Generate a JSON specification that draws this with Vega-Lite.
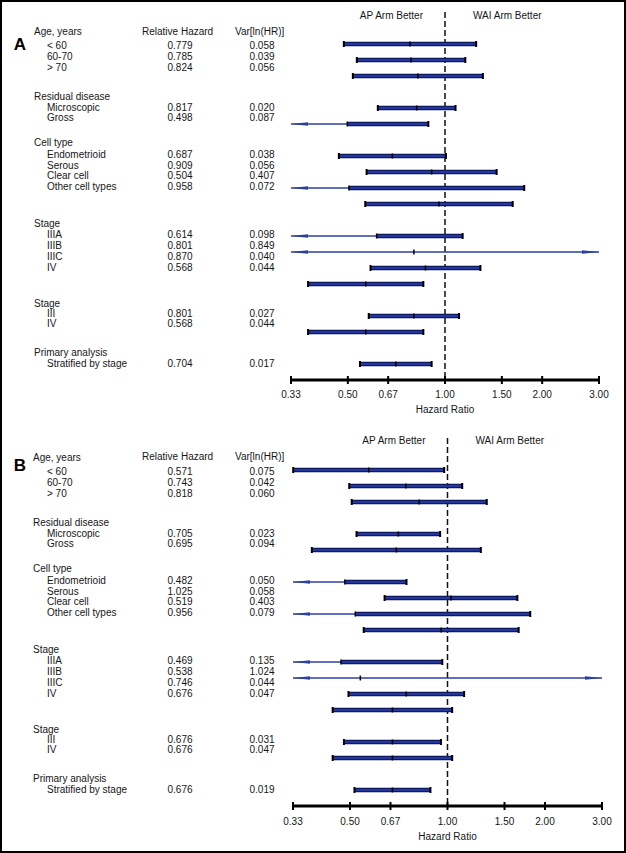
{
  "$schema": "https://vega.github.io/schema/vega-lite/v6.json",
  "width": 626,
  "height": 853,
  "autosize": {"type": "none"},
  "padding": 0,
  "background": "white",
  "config": {
    "view": {"stroke": "#000", "strokeWidth": 4},
    "text": {"font": "Liberation Sans", "fontSize": 10, "fill": "#161616", "baseline": "middle"}
  },
  "datasets": {
    "forestA": [
      {"label": "< 60", "hr": 0.779, "v": 0.058, "lo": 0.4859, "hi": 1.2489, "pos": 0, "tpos": 0.125},
      {"label": "60-70", "hr": 0.785, "v": 0.039, "lo": 0.5331, "hi": 1.156, "pos": 1, "tpos": 0.81},
      {"label": "> 70", "hr": 0.824, "v": 0.056, "lo": 0.5182, "hi": 1.3103, "pos": 2, "tpos": 1.5},
      {"label": "Microscopic", "hr": 0.817, "v": 0.02, "lo": 0.6192, "hi": 1.078, "pos": 4, "tpos": 4.0},
      {"label": "Gross", "hr": 0.498, "v": 0.087, "lo": 0.2793, "hi": 0.8878, "pos": 5, "tpos": 4.63},
      {"label": "Endometrioid", "hr": 0.687, "v": 0.038, "lo": 0.4689, "hi": 1.0067, "pos": 7, "tpos": 6.94},
      {"label": "Serous", "hr": 0.909, "v": 0.056, "lo": 0.5716, "hi": 1.4454, "pos": 8, "tpos": 7.63},
      {"label": "Clear cell", "hr": 0.504, "v": 0.407, "lo": 0.1443, "hi": 1.7599, "pos": 9, "tpos": 8.25},
      {"label": "Other cell types", "hr": 0.958, "v": 0.072, "lo": 0.5662, "hi": 1.621, "pos": 10, "tpos": 8.94},
      {"label": "IIIA", "hr": 0.614, "v": 0.098, "lo": 0.3324, "hi": 1.1341, "pos": 12, "tpos": 11.94},
      {"label": "IIIB", "hr": 0.801, "v": 0.849, "lo": 0.1316, "hi": 4.875, "pos": 13, "tpos": 12.63},
      {"label": "IIIC", "hr": 0.87, "v": 0.04, "lo": 0.5879, "hi": 1.2875, "pos": 14, "tpos": 13.31},
      {"label": "IV", "hr": 0.568, "v": 0.044, "lo": 0.3765, "hi": 0.8568, "pos": 15, "tpos": 14.0},
      {"label": "III", "hr": 0.801, "v": 0.027, "lo": 0.5804, "hi": 1.1054, "pos": 17, "tpos": 16.88},
      {"label": "IV", "hr": 0.568, "v": 0.044, "lo": 0.3765, "hi": 0.8568, "pos": 18, "tpos": 17.5},
      {"label": "Stratified by stage", "hr": 0.704, "v": 0.017, "lo": 0.5452, "hi": 0.909, "pos": 20, "tpos": 20.0}
    ],
    "forestB": [
      {"label": "< 60", "hr": 0.571, "v": 0.075, "lo": 0.3338, "hi": 0.9767, "pos": 0, "tpos": 0.125},
      {"label": "60-70", "hr": 0.743, "v": 0.042, "lo": 0.4972, "hi": 1.1103, "pos": 1, "tpos": 0.81},
      {"label": "> 70", "hr": 0.818, "v": 0.06, "lo": 0.5061, "hi": 1.3221, "pos": 2, "tpos": 1.5},
      {"label": "Microscopic", "hr": 0.705, "v": 0.023, "lo": 0.5237, "hi": 0.949, "pos": 4, "tpos": 4.0},
      {"label": "Gross", "hr": 0.695, "v": 0.094, "lo": 0.3811, "hi": 1.2675, "pos": 5, "tpos": 4.63},
      {"label": "Endometrioid", "hr": 0.482, "v": 0.05, "lo": 0.311, "hi": 0.7471, "pos": 7, "tpos": 6.94},
      {"label": "Serous", "hr": 1.025, "v": 0.058, "lo": 0.6393, "hi": 1.6433, "pos": 8, "tpos": 7.63},
      {"label": "Clear cell", "hr": 0.519, "v": 0.403, "lo": 0.1496, "hi": 1.8011, "pos": 9, "tpos": 8.25},
      {"label": "Other cell types", "hr": 0.956, "v": 0.079, "lo": 0.5511, "hi": 1.6585, "pos": 10, "tpos": 8.94},
      {"label": "IIIA", "hr": 0.469, "v": 0.135, "lo": 0.2283, "hi": 0.9637, "pos": 12, "tpos": 11.94},
      {"label": "IIIB", "hr": 0.538, "v": 1.024, "lo": 0.0748, "hi": 3.91, "pos": 13, "tpos": 12.63},
      {"label": "IIIC", "hr": 0.746, "v": 0.044, "lo": 0.4945, "hi": 1.1254, "pos": 14, "tpos": 13.31},
      {"label": "IV", "hr": 0.676, "v": 0.047, "lo": 0.442, "hi": 1.0339, "pos": 15, "tpos": 14.0},
      {"label": "III", "hr": 0.676, "v": 0.031, "lo": 0.4787, "hi": 0.9546, "pos": 17, "tpos": 16.88},
      {"label": "IV", "hr": 0.676, "v": 0.047, "lo": 0.442, "hi": 1.0339, "pos": 18, "tpos": 17.5},
      {"label": "Stratified by stage", "hr": 0.676, "v": 0.019, "lo": 0.516, "hi": 0.8857, "pos": 20, "tpos": 20.0}
    ],
    "groups": [
      {"name": "Age, years", "tpos": -0.75},
      {"name": "Residual disease", "tpos": 3.31},
      {"name": "Cell type", "tpos": 6.19},
      {"name": "Stage", "tpos": 11.25},
      {"name": "Stage", "tpos": 16.25},
      {"name": "Primary analysis", "tpos": 19.31}
    ],
    "colheads": [
      {"h": "Relative Hazard", "c": 3},
      {"h": "Var[ln(HR)]", "c": 5}
    ],
    "ticks": [
      {"t": 0.333333, "label": "0.33"},
      {"t": 0.5, "label": "0.50"},
      {"t": 0.666667, "label": "0.67"},
      {"t": 1, "label": "1.00"},
      {"t": 1.5, "label": "1.50"},
      {"t": 2, "label": "2.00"},
      {"t": 3, "label": "3.00"}
    ]
  },
  "resolve": {"scale": {"x": "independent", "y": "independent"}},
  "layer": [
    {
      "resolve": {"scale": {"x": "independent"}},
      "layer": [
        {
          "layer": [
            {"data": {"values": [{}]}, "mark": {"type": "rule", "strokeDash": [6, 3], "strokeWidth": 1.5, "color": "#111"},
             "encoding": {"x": {"datum": 1, "type": "quantitative", "scale": {"type": "log", "domain": [0.333333, 3], "range": [291, 599], "clamp": true, "nice": false}, "axis": null},
                          "y": {"datum": -2, "type": "quantitative", "scale": {"domain": [-2.75, 50.5625], "reverse": true, "nice": false, "zero": false}, "axis": null},
                          "y2": {"datum": 21}}},
            {"data": {"name": "forestA"}, "transform": [{"filter": "datum.lo < 0.33333"}], "mark": {"type": "rule", "strokeWidth": 1.5, "color": "#2c3fa6"},
             "encoding": {"x": {"field": "lo", "type": "quantitative", "scale": {"type": "log", "domain": [0.333333, 3], "range": [291, 599], "clamp": true, "nice": false}, "axis": null}, "x2": {"field": "hr"},
                          "y": {"field": "pos", "type": "quantitative", "scale": {"domain": [-2.75, 50.5625], "reverse": true, "nice": false, "zero": false}, "axis": null}}},
            {"data": {"name": "forestA"}, "transform": [{"filter": "datum.hi > 3"}], "mark": {"type": "rule", "strokeWidth": 1.5, "color": "#2c3fa6"},
             "encoding": {"x": {"field": "hr", "type": "quantitative", "scale": {"type": "log", "domain": [0.333333, 3], "range": [291, 599], "clamp": true, "nice": false}, "axis": null}, "x2": {"field": "hi"},
                          "y": {"field": "pos", "type": "quantitative", "scale": {"domain": [-2.75, 50.5625], "reverse": true, "nice": false, "zero": false}, "axis": null}}},
            {"data": {"name": "forestA"}, "transform": [{"filter": "datum.lo >= 0.33333"}], "mark": {"type": "rule", "strokeWidth": 4.5, "color": "#0b1040", "strokeCap": "butt"},
             "encoding": {"x": {"field": "lo", "type": "quantitative", "scale": {"type": "log", "domain": [0.333333, 3], "range": [291, 599], "clamp": true, "nice": false}, "axis": null}, "x2": {"field": "hr"},
                          "y": {"field": "pos", "type": "quantitative", "scale": {"domain": [-2.75, 50.5625], "reverse": true, "nice": false, "zero": false}, "axis": null}}},
            {"data": {"name": "forestA"}, "transform": [{"filter": "datum.hi <= 3"}], "mark": {"type": "rule", "strokeWidth": 4.5, "color": "#0b1040", "strokeCap": "butt"},
             "encoding": {"x": {"field": "hr", "type": "quantitative", "scale": {"type": "log", "domain": [0.333333, 3], "range": [291, 599], "clamp": true, "nice": false}, "axis": null}, "x2": {"field": "hi"},
                          "y": {"field": "pos", "type": "quantitative", "scale": {"domain": [-2.75, 50.5625], "reverse": true, "nice": false, "zero": false}, "axis": null}}},
            {"data": {"name": "forestA"}, "transform": [{"filter": "datum.lo >= 0.33333"}], "mark": {"type": "rule", "strokeWidth": 2.5, "color": "#2236a6", "strokeCap": "butt"},
             "encoding": {"x": {"field": "lo", "type": "quantitative", "scale": {"type": "log", "domain": [0.333333, 3], "range": [291, 599], "clamp": true, "nice": false}, "axis": null}, "x2": {"field": "hr"},
                          "y": {"field": "pos", "type": "quantitative", "scale": {"domain": [-2.75, 50.5625], "reverse": true, "nice": false, "zero": false}, "axis": null}}},
            {"data": {"name": "forestA"}, "transform": [{"filter": "datum.hi <= 3"}], "mark": {"type": "rule", "strokeWidth": 2.5, "color": "#2236a6", "strokeCap": "butt"},
             "encoding": {"x": {"field": "hr", "type": "quantitative", "scale": {"type": "log", "domain": [0.333333, 3], "range": [291, 599], "clamp": true, "nice": false}, "axis": null}, "x2": {"field": "hi"},
                          "y": {"field": "pos", "type": "quantitative", "scale": {"domain": [-2.75, 50.5625], "reverse": true, "nice": false, "zero": false}, "axis": null}}},
            {"data": {"name": "forestA"}, "transform": [{"filter": "datum.lo >= 0.33333"}], "mark": {"type": "tick", "orient": "vertical", "size": 6, "thickness": 2, "color": "#000", "opacity": 1},
             "encoding": {"x": {"field": "lo", "type": "quantitative", "scale": {"type": "log", "domain": [0.333333, 3], "range": [291, 599], "clamp": true, "nice": false}, "axis": null},
                          "y": {"field": "pos", "type": "quantitative", "scale": {"domain": [-2.75, 50.5625], "reverse": true, "nice": false, "zero": false}, "axis": null}}},
            {"data": {"name": "forestA"}, "transform": [{"filter": "datum.hi <= 3"}], "mark": {"type": "tick", "orient": "vertical", "size": 6, "thickness": 2, "color": "#000", "opacity": 1},
             "encoding": {"x": {"field": "hi", "type": "quantitative", "scale": {"type": "log", "domain": [0.333333, 3], "range": [291, 599], "clamp": true, "nice": false}, "axis": null},
                          "y": {"field": "pos", "type": "quantitative", "scale": {"domain": [-2.75, 50.5625], "reverse": true, "nice": false, "zero": false}, "axis": null}}},
            {"data": {"name": "forestA"}, "mark": {"type": "tick", "orient": "vertical", "size": 5, "thickness": 1.5, "color": "#000", "opacity": 1},
             "encoding": {"x": {"field": "hr", "type": "quantitative", "scale": {"type": "log", "domain": [0.333333, 3], "range": [291, 599], "clamp": true, "nice": false}, "axis": null},
                          "y": {"field": "pos", "type": "quantitative", "scale": {"domain": [-2.75, 50.5625], "reverse": true, "nice": false, "zero": false}, "axis": null}}},
            {"data": {"name": "forestA"}, "transform": [{"filter": "datum.lo < 0.33333"}], "mark": {"type": "point", "shape": "M0,0L2,-0.22L2,0.22Z", "size": 289, "filled": true, "color": "#2c3fa6", "opacity": 1, "strokeWidth": 0},
             "encoding": {"x": {"field": "lo", "type": "quantitative", "scale": {"type": "log", "domain": [0.333333, 3], "range": [291, 599], "clamp": true, "nice": false}, "axis": null},
                          "y": {"field": "pos", "type": "quantitative", "scale": {"domain": [-2.75, 50.5625], "reverse": true, "nice": false, "zero": false}, "axis": null}}},
            {"data": {"name": "forestA"}, "transform": [{"filter": "datum.hi > 3"}], "mark": {"type": "point", "shape": "M0,0L-2,-0.22L-2,0.22Z", "size": 289, "filled": true, "color": "#2c3fa6", "opacity": 1, "strokeWidth": 0},
             "encoding": {"x": {"field": "hi", "type": "quantitative", "scale": {"type": "log", "domain": [0.333333, 3], "range": [291, 599], "clamp": true, "nice": false}, "axis": null},
                          "y": {"field": "pos", "type": "quantitative", "scale": {"domain": [-2.75, 50.5625], "reverse": true, "nice": false, "zero": false}, "axis": null}}},
            {"data": {"values": [{}]}, "mark": {"type": "rule", "strokeWidth": 3, "color": "#000"},
             "encoding": {"x": {"datum": 0.333333, "type": "quantitative", "scale": {"type": "log", "domain": [0.333333, 3], "range": [291, 599], "clamp": true, "nice": false}, "axis": null}, "x2": {"datum": 3},
                          "y": {"datum": 21, "type": "quantitative", "scale": {"domain": [-2.75, 50.5625], "reverse": true, "nice": false, "zero": false}, "axis": null}}},
            {"data": {"name": "ticks"}, "mark": {"type": "tick", "orient": "vertical", "size": 8, "thickness": 2, "color": "#000", "opacity": 1},
             "encoding": {"x": {"field": "t", "type": "quantitative", "scale": {"type": "log", "domain": [0.333333, 3], "range": [291, 599], "clamp": true, "nice": false}, "axis": null},
                          "y": {"datum": 21, "type": "quantitative", "scale": {"domain": [-2.75, 50.5625], "reverse": true, "nice": false, "zero": false}, "axis": null}}},
            {"data": {"name": "ticks"}, "mark": {"type": "text", "dy": 15, "align": "center"},
             "encoding": {"x": {"field": "t", "type": "quantitative", "scale": {"type": "log", "domain": [0.333333, 3], "range": [291, 599], "clamp": true, "nice": false}, "axis": null},
                          "y": {"datum": 21, "type": "quantitative", "scale": {"domain": [-2.75, 50.5625], "reverse": true, "nice": false, "zero": false}, "axis": null},
                          "text": {"field": "label"}}},
            {"data": {"values": [{"t": "Hazard Ratio"}]}, "mark": {"type": "text", "dy": 30, "align": "center"},
             "encoding": {"x": {"datum": 1, "type": "quantitative", "scale": {"type": "log", "domain": [0.333333, 3], "range": [291, 599], "clamp": true, "nice": false}, "axis": null},
                          "y": {"datum": 21, "type": "quantitative", "scale": {"domain": [-2.75, 50.5625], "reverse": true, "nice": false, "zero": false}, "axis": null},
                          "text": {"field": "t"}}},
            {"data": {"values": [{"t": "AP Arm Better"}]}, "mark": {"type": "text", "dx": -22, "align": "right"},
             "encoding": {"x": {"datum": 1, "type": "quantitative", "scale": {"type": "log", "domain": [0.333333, 3], "range": [291, 599], "clamp": true, "nice": false}, "axis": null},
                          "y": {"datum": -1.75, "type": "quantitative", "scale": {"domain": [-2.75, 50.5625], "reverse": true, "nice": false, "zero": false}, "axis": null},
                          "text": {"field": "t"}}},
            {"data": {"values": [{"t": "WAI Arm Better"}]}, "mark": {"type": "text", "dx": 28, "align": "left"},
             "encoding": {"x": {"datum": 1, "type": "quantitative", "scale": {"type": "log", "domain": [0.333333, 3], "range": [291, 599], "clamp": true, "nice": false}, "axis": null},
                          "y": {"datum": -1.75, "type": "quantitative", "scale": {"domain": [-2.75, 50.5625], "reverse": true, "nice": false, "zero": false}, "axis": null},
                          "text": {"field": "t"}}}
          ]
        },
        {
          "layer": [
            {"data": {"values": [{"t": "A"}]}, "mark": {"type": "text", "align": "center", "fontSize": 17, "fontWeight": "bold", "fill": "#000"},
             "encoding": {"x": {"datum": 0, "type": "quantitative", "scale": {"type": "linear", "domain": [0, 1, 2, 3, 4, 5, 6], "range": [20, 34, 47, 142, 180, 235, 262], "nice": false, "zero": false}, "axis": null},
                          "y": {"datum": 0.06, "type": "quantitative", "scale": {"domain": [-2.75, 50.5625], "reverse": true, "nice": false, "zero": false}, "axis": null},
                          "text": {"field": "t"}}},
            {"data": {"name": "colheads"}, "mark": {"type": "text", "align": "left"},
             "encoding": {"x": {"field": "c", "type": "quantitative", "scale": {"type": "linear", "domain": [0, 1, 2, 3, 4, 5, 6], "range": [20, 34, 47, 142, 180, 235, 262], "nice": false, "zero": false}, "axis": null},
                          "y": {"datum": -0.75, "type": "quantitative", "scale": {"domain": [-2.75, 50.5625], "reverse": true, "nice": false, "zero": false}, "axis": null},
                          "text": {"field": "h"}}},
            {"data": {"name": "groups"}, "mark": {"type": "text", "align": "left"},
             "encoding": {"x": {"datum": 1, "type": "quantitative", "scale": {"type": "linear", "domain": [0, 1, 2, 3, 4, 5, 6], "range": [20, 34, 47, 142, 180, 235, 262], "nice": false, "zero": false}, "axis": null},
                          "y": {"field": "tpos", "type": "quantitative", "scale": {"domain": [-2.75, 50.5625], "reverse": true, "nice": false, "zero": false}, "axis": null},
                          "text": {"field": "name"}}},
            {"data": {"name": "forestA"}, "mark": {"type": "text", "align": "left"},
             "encoding": {"x": {"datum": 2, "type": "quantitative", "scale": {"type": "linear", "domain": [0, 1, 2, 3, 4, 5, 6], "range": [20, 34, 47, 142, 180, 235, 262], "nice": false, "zero": false}, "axis": null},
                          "y": {"field": "tpos", "type": "quantitative", "scale": {"domain": [-2.75, 50.5625], "reverse": true, "nice": false, "zero": false}, "axis": null},
                          "text": {"field": "label"}}},
            {"data": {"name": "forestA"}, "mark": {"type": "text", "align": "center"},
             "encoding": {"x": {"datum": 4, "type": "quantitative", "scale": {"type": "linear", "domain": [0, 1, 2, 3, 4, 5, 6], "range": [20, 34, 47, 142, 180, 235, 262], "nice": false, "zero": false}, "axis": null},
                          "y": {"field": "tpos", "type": "quantitative", "scale": {"domain": [-2.75, 50.5625], "reverse": true, "nice": false, "zero": false}, "axis": null},
                          "text": {"field": "hr", "type": "quantitative", "format": ".3f"}}},
            {"data": {"name": "forestA"}, "mark": {"type": "text", "align": "center"},
             "encoding": {"x": {"datum": 6, "type": "quantitative", "scale": {"type": "linear", "domain": [0, 1, 2, 3, 4, 5, 6], "range": [20, 34, 47, 142, 180, 235, 262], "nice": false, "zero": false}, "axis": null},
                          "y": {"field": "tpos", "type": "quantitative", "scale": {"domain": [-2.75, 50.5625], "reverse": true, "nice": false, "zero": false}, "axis": null},
                          "text": {"field": "v", "type": "quantitative", "format": ".3f"}}}
          ]
        }
      ]
    },
    {
      "resolve": {"scale": {"x": "independent"}},
      "layer": [
        {
          "layer": [
            {"data": {"values": [{}]}, "mark": {"type": "rule", "strokeDash": [6, 3], "strokeWidth": 1.5, "color": "#111"},
             "encoding": {"x": {"datum": 1, "type": "quantitative", "scale": {"type": "log", "domain": [0.333333, 3], "range": [293, 602], "clamp": true, "nice": false}, "axis": null},
                          "y": {"datum": -2, "type": "quantitative", "scale": {"domain": [-29.375, 23.9375], "reverse": true, "nice": false, "zero": false}, "axis": null},
                          "y2": {"datum": 21}}},
            {"data": {"name": "forestB"}, "transform": [{"filter": "datum.lo < 0.33333"}], "mark": {"type": "rule", "strokeWidth": 1.5, "color": "#2c3fa6"},
             "encoding": {"x": {"field": "lo", "type": "quantitative", "scale": {"type": "log", "domain": [0.333333, 3], "range": [293, 602], "clamp": true, "nice": false}, "axis": null}, "x2": {"field": "hr"},
                          "y": {"field": "pos", "type": "quantitative", "scale": {"domain": [-29.375, 23.9375], "reverse": true, "nice": false, "zero": false}, "axis": null}}},
            {"data": {"name": "forestB"}, "transform": [{"filter": "datum.hi > 3"}], "mark": {"type": "rule", "strokeWidth": 1.5, "color": "#2c3fa6"},
             "encoding": {"x": {"field": "hr", "type": "quantitative", "scale": {"type": "log", "domain": [0.333333, 3], "range": [293, 602], "clamp": true, "nice": false}, "axis": null}, "x2": {"field": "hi"},
                          "y": {"field": "pos", "type": "quantitative", "scale": {"domain": [-29.375, 23.9375], "reverse": true, "nice": false, "zero": false}, "axis": null}}},
            {"data": {"name": "forestB"}, "transform": [{"filter": "datum.lo >= 0.33333"}], "mark": {"type": "rule", "strokeWidth": 4.5, "color": "#0b1040", "strokeCap": "butt"},
             "encoding": {"x": {"field": "lo", "type": "quantitative", "scale": {"type": "log", "domain": [0.333333, 3], "range": [293, 602], "clamp": true, "nice": false}, "axis": null}, "x2": {"field": "hr"},
                          "y": {"field": "pos", "type": "quantitative", "scale": {"domain": [-29.375, 23.9375], "reverse": true, "nice": false, "zero": false}, "axis": null}}},
            {"data": {"name": "forestB"}, "transform": [{"filter": "datum.hi <= 3"}], "mark": {"type": "rule", "strokeWidth": 4.5, "color": "#0b1040", "strokeCap": "butt"},
             "encoding": {"x": {"field": "hr", "type": "quantitative", "scale": {"type": "log", "domain": [0.333333, 3], "range": [293, 602], "clamp": true, "nice": false}, "axis": null}, "x2": {"field": "hi"},
                          "y": {"field": "pos", "type": "quantitative", "scale": {"domain": [-29.375, 23.9375], "reverse": true, "nice": false, "zero": false}, "axis": null}}},
            {"data": {"name": "forestB"}, "transform": [{"filter": "datum.lo >= 0.33333"}], "mark": {"type": "rule", "strokeWidth": 2.5, "color": "#2236a6", "strokeCap": "butt"},
             "encoding": {"x": {"field": "lo", "type": "quantitative", "scale": {"type": "log", "domain": [0.333333, 3], "range": [293, 602], "clamp": true, "nice": false}, "axis": null}, "x2": {"field": "hr"},
                          "y": {"field": "pos", "type": "quantitative", "scale": {"domain": [-29.375, 23.9375], "reverse": true, "nice": false, "zero": false}, "axis": null}}},
            {"data": {"name": "forestB"}, "transform": [{"filter": "datum.hi <= 3"}], "mark": {"type": "rule", "strokeWidth": 2.5, "color": "#2236a6", "strokeCap": "butt"},
             "encoding": {"x": {"field": "hr", "type": "quantitative", "scale": {"type": "log", "domain": [0.333333, 3], "range": [293, 602], "clamp": true, "nice": false}, "axis": null}, "x2": {"field": "hi"},
                          "y": {"field": "pos", "type": "quantitative", "scale": {"domain": [-29.375, 23.9375], "reverse": true, "nice": false, "zero": false}, "axis": null}}},
            {"data": {"name": "forestB"}, "transform": [{"filter": "datum.lo >= 0.33333"}], "mark": {"type": "tick", "orient": "vertical", "size": 6, "thickness": 2, "color": "#000", "opacity": 1},
             "encoding": {"x": {"field": "lo", "type": "quantitative", "scale": {"type": "log", "domain": [0.333333, 3], "range": [293, 602], "clamp": true, "nice": false}, "axis": null},
                          "y": {"field": "pos", "type": "quantitative", "scale": {"domain": [-29.375, 23.9375], "reverse": true, "nice": false, "zero": false}, "axis": null}}},
            {"data": {"name": "forestB"}, "transform": [{"filter": "datum.hi <= 3"}], "mark": {"type": "tick", "orient": "vertical", "size": 6, "thickness": 2, "color": "#000", "opacity": 1},
             "encoding": {"x": {"field": "hi", "type": "quantitative", "scale": {"type": "log", "domain": [0.333333, 3], "range": [293, 602], "clamp": true, "nice": false}, "axis": null},
                          "y": {"field": "pos", "type": "quantitative", "scale": {"domain": [-29.375, 23.9375], "reverse": true, "nice": false, "zero": false}, "axis": null}}},
            {"data": {"name": "forestB"}, "mark": {"type": "tick", "orient": "vertical", "size": 5, "thickness": 1.5, "color": "#000", "opacity": 1},
             "encoding": {"x": {"field": "hr", "type": "quantitative", "scale": {"type": "log", "domain": [0.333333, 3], "range": [293, 602], "clamp": true, "nice": false}, "axis": null},
                          "y": {"field": "pos", "type": "quantitative", "scale": {"domain": [-29.375, 23.9375], "reverse": true, "nice": false, "zero": false}, "axis": null}}},
            {"data": {"name": "forestB"}, "transform": [{"filter": "datum.lo < 0.33333"}], "mark": {"type": "point", "shape": "M0,0L2,-0.22L2,0.22Z", "size": 289, "filled": true, "color": "#2c3fa6", "opacity": 1, "strokeWidth": 0},
             "encoding": {"x": {"field": "lo", "type": "quantitative", "scale": {"type": "log", "domain": [0.333333, 3], "range": [293, 602], "clamp": true, "nice": false}, "axis": null},
                          "y": {"field": "pos", "type": "quantitative", "scale": {"domain": [-29.375, 23.9375], "reverse": true, "nice": false, "zero": false}, "axis": null}}},
            {"data": {"name": "forestB"}, "transform": [{"filter": "datum.hi > 3"}], "mark": {"type": "point", "shape": "M0,0L-2,-0.22L-2,0.22Z", "size": 289, "filled": true, "color": "#2c3fa6", "opacity": 1, "strokeWidth": 0},
             "encoding": {"x": {"field": "hi", "type": "quantitative", "scale": {"type": "log", "domain": [0.333333, 3], "range": [293, 602], "clamp": true, "nice": false}, "axis": null},
                          "y": {"field": "pos", "type": "quantitative", "scale": {"domain": [-29.375, 23.9375], "reverse": true, "nice": false, "zero": false}, "axis": null}}},
            {"data": {"values": [{}]}, "mark": {"type": "rule", "strokeWidth": 3, "color": "#000"},
             "encoding": {"x": {"datum": 0.333333, "type": "quantitative", "scale": {"type": "log", "domain": [0.333333, 3], "range": [293, 602], "clamp": true, "nice": false}, "axis": null}, "x2": {"datum": 3},
                          "y": {"datum": 21, "type": "quantitative", "scale": {"domain": [-29.375, 23.9375], "reverse": true, "nice": false, "zero": false}, "axis": null}}},
            {"data": {"name": "ticks"}, "mark": {"type": "tick", "orient": "vertical", "size": 8, "thickness": 2, "color": "#000", "opacity": 1},
             "encoding": {"x": {"field": "t", "type": "quantitative", "scale": {"type": "log", "domain": [0.333333, 3], "range": [293, 602], "clamp": true, "nice": false}, "axis": null},
                          "y": {"datum": 21, "type": "quantitative", "scale": {"domain": [-29.375, 23.9375], "reverse": true, "nice": false, "zero": false}, "axis": null}}},
            {"data": {"name": "ticks"}, "mark": {"type": "text", "dy": 16, "align": "center"},
             "encoding": {"x": {"field": "t", "type": "quantitative", "scale": {"type": "log", "domain": [0.333333, 3], "range": [293, 602], "clamp": true, "nice": false}, "axis": null},
                          "y": {"datum": 21, "type": "quantitative", "scale": {"domain": [-29.375, 23.9375], "reverse": true, "nice": false, "zero": false}, "axis": null},
                          "text": {"field": "label"}}},
            {"data": {"values": [{"t": "Hazard Ratio"}]}, "mark": {"type": "text", "dy": 31, "align": "center"},
             "encoding": {"x": {"datum": 1, "type": "quantitative", "scale": {"type": "log", "domain": [0.333333, 3], "range": [293, 602], "clamp": true, "nice": false}, "axis": null},
                          "y": {"datum": 21, "type": "quantitative", "scale": {"domain": [-29.375, 23.9375], "reverse": true, "nice": false, "zero": false}, "axis": null},
                          "text": {"field": "t"}}},
            {"data": {"values": [{"t": "AP Arm Better"}]}, "mark": {"type": "text", "dx": -22, "align": "right"},
             "encoding": {"x": {"datum": 1, "type": "quantitative", "scale": {"type": "log", "domain": [0.333333, 3], "range": [293, 602], "clamp": true, "nice": false}, "axis": null},
                          "y": {"datum": -1.8, "type": "quantitative", "scale": {"domain": [-29.375, 23.9375], "reverse": true, "nice": false, "zero": false}, "axis": null},
                          "text": {"field": "t"}}},
            {"data": {"values": [{"t": "WAI Arm Better"}]}, "mark": {"type": "text", "dx": 28, "align": "left"},
             "encoding": {"x": {"datum": 1, "type": "quantitative", "scale": {"type": "log", "domain": [0.333333, 3], "range": [293, 602], "clamp": true, "nice": false}, "axis": null},
                          "y": {"datum": -1.8, "type": "quantitative", "scale": {"domain": [-29.375, 23.9375], "reverse": true, "nice": false, "zero": false}, "axis": null},
                          "text": {"field": "t"}}}
          ]
        },
        {
          "layer": [
            {"data": {"values": [{"t": "B"}]}, "mark": {"type": "text", "align": "center", "fontSize": 17, "fontWeight": "bold", "fill": "#000"},
             "encoding": {"x": {"datum": 0, "type": "quantitative", "scale": {"type": "linear", "domain": [0, 1, 2, 3, 4, 5, 6], "range": [20, 33, 47, 142, 180, 235, 262], "nice": false, "zero": false}, "axis": null},
                          "y": {"datum": -0.28, "type": "quantitative", "scale": {"domain": [-29.375, 23.9375], "reverse": true, "nice": false, "zero": false}, "axis": null},
                          "text": {"field": "t"}}},
            {"data": {"name": "colheads"}, "mark": {"type": "text", "align": "left"},
             "encoding": {"x": {"field": "c", "type": "quantitative", "scale": {"type": "linear", "domain": [0, 1, 2, 3, 4, 5, 6], "range": [20, 33, 47, 142, 180, 235, 262], "nice": false, "zero": false}, "axis": null},
                          "y": {"datum": -0.8, "type": "quantitative", "scale": {"domain": [-29.375, 23.9375], "reverse": true, "nice": false, "zero": false}, "axis": null},
                          "text": {"field": "h"}}},
            {"data": {"name": "groups"}, "mark": {"type": "text", "align": "left"},
             "encoding": {"x": {"datum": 1, "type": "quantitative", "scale": {"type": "linear", "domain": [0, 1, 2, 3, 4, 5, 6], "range": [20, 33, 47, 142, 180, 235, 262], "nice": false, "zero": false}, "axis": null},
                          "y": {"field": "tpos", "type": "quantitative", "scale": {"domain": [-29.375, 23.9375], "reverse": true, "nice": false, "zero": false}, "axis": null},
                          "text": {"field": "name"}}},
            {"data": {"name": "forestB"}, "mark": {"type": "text", "align": "left"},
             "encoding": {"x": {"datum": 2, "type": "quantitative", "scale": {"type": "linear", "domain": [0, 1, 2, 3, 4, 5, 6], "range": [20, 33, 47, 142, 180, 235, 262], "nice": false, "zero": false}, "axis": null},
                          "y": {"field": "tpos", "type": "quantitative", "scale": {"domain": [-29.375, 23.9375], "reverse": true, "nice": false, "zero": false}, "axis": null},
                          "text": {"field": "label"}}},
            {"data": {"name": "forestB"}, "mark": {"type": "text", "align": "center"},
             "encoding": {"x": {"datum": 4, "type": "quantitative", "scale": {"type": "linear", "domain": [0, 1, 2, 3, 4, 5, 6], "range": [20, 33, 47, 142, 180, 235, 262], "nice": false, "zero": false}, "axis": null},
                          "y": {"field": "tpos", "type": "quantitative", "scale": {"domain": [-29.375, 23.9375], "reverse": true, "nice": false, "zero": false}, "axis": null},
                          "text": {"field": "hr", "type": "quantitative", "format": ".3f"}}},
            {"data": {"name": "forestB"}, "mark": {"type": "text", "align": "center"},
             "encoding": {"x": {"datum": 6, "type": "quantitative", "scale": {"type": "linear", "domain": [0, 1, 2, 3, 4, 5, 6], "range": [20, 33, 47, 142, 180, 235, 262], "nice": false, "zero": false}, "axis": null},
                          "y": {"field": "tpos", "type": "quantitative", "scale": {"domain": [-29.375, 23.9375], "reverse": true, "nice": false, "zero": false}, "axis": null},
                          "text": {"field": "v", "type": "quantitative", "format": ".3f"}}}
          ]
        }
      ]
    }
  ]
}
